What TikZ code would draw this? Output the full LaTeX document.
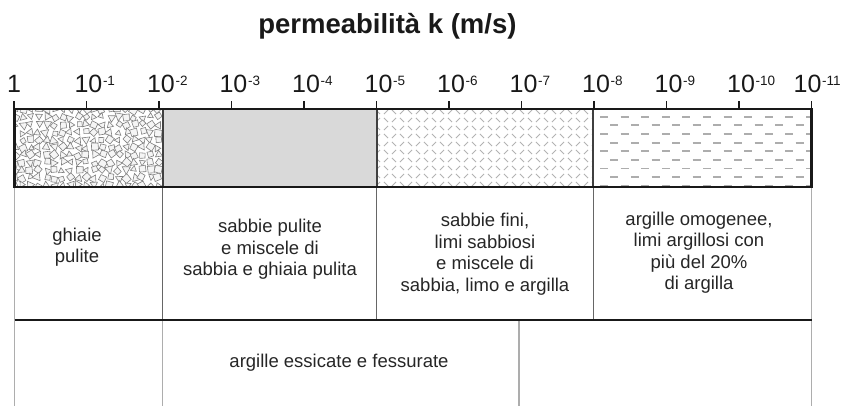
\documentclass[tikz,border=0pt]{standalone}
\usepackage{fontspec}
\setmainfont{Liberation Sans}
\newcommand\expolab[1]{10\rlap{\kern0.6pt\raisebox{7.5pt}{\fontsize{13.5}{13.5}\selectfont -#1}}}
\begin{document}
\begin{tikzpicture}[x=1pt,y=-1pt,
  txt/.style={align=center, text=black!85, font=\fontsize{18.5}{21.5}\selectfont, inner sep=0pt},
  ticklab/.style={anchor=base, text=black!90, font=\fontsize{25}{25}\selectfont, inner sep=0pt},
  titlestyle/.style={anchor=base, text=black!90, font=\bfseries\fontsize{27.5}{27.5}\selectfont, inner sep=0pt},
  thickline/.style={line width=2.6pt, draw=black!90},
  tickmark/.style={line width=1.8pt, draw=black!90},
  divider/.style={line width=1.7pt, draw=black!75},
  gridup/.style={line width=1.2pt, draw=black!60},
  gridlow/.style={line width=1.2pt, draw=black!32},
  gravel/.style={draw=black!50, line width=0.6pt, fill=black!4},
  silt/.style={draw=black!30, line width=1pt},
  clay/.style={draw=black!32, line width=1.8pt}
]
\useasboundingbox (0,0) rectangle (848,406);

% title
\node[titlestyle] (title) at (387.4,34) {permeabilità k (m/s)};

% tick labels
\node[ticklab] (t0) at (14,93) {1};
\foreach \i in {1,...,10} {
  \node[ticklab] (t\i) at (14+72.5*\i+2,93) {\expolab{\i}};
}
\node[ticklab] (t11) at (807.5,93) {\expolab{11}};

% sand fill
\fill[black!15] (162.7,109) rectangle (376.7,187);

% gravel pattern
\begin{scope}
  \clip (14.7,109) rectangle (162.7,187);
  \pgfmathsetseed{7}
  \foreach \i in {0,...,18} {
    \foreach \j in {0,...,10} {
      \pgfmathsetmacro\cx{13+\i*8+rnd*3}
      \pgfmathsetmacro\cy{108+\j*7.6+rnd*3}
      \pgfmathsetmacro\r{rnd*360}
      \pgfmathsetmacro\s{3.2+rnd*1.8}
      \pgfmathtruncatemacro\k{rnd*2}
      \ifnum\k=0
        \draw[gravel] (\cx,\cy) +(\r:\s) -- +(\r+115:\s) -- +(\r+235:\s) -- cycle;
      \else
        \draw[gravel] (\cx,\cy) +(\r:\s) -- +(\r+80:\s) -- +(\r+170:\s) -- +(\r+265:\s) -- cycle;
      \fi
    }
  }
\end{scope}

% silt pattern
\begin{scope}
  \clip (376.7,109) rectangle (593.3,187);
  \foreach \i in {0,...,28} {
    \foreach \j in {0,...,10} {
      \pgfmathsetmacro\px{378+\i*8}
      \pgfmathsetmacro\py{112+\j*8}
      \pgfmathtruncatemacro\k{mod(\i+\j,2)}
      \ifnum\k=0
        \draw[silt] (\px-2.1,\py-2.1) -- (\px+2.1,\py+2.1);
      \else
        \draw[silt] (\px-2.1,\py+2.1) -- (\px+2.1,\py-2.1);
      \fi
    }
  }
\end{scope}

% clay pattern
\begin{scope}
  \clip (593.3,109) rectangle (811.7,187);
  \foreach \j in {0,...,8} {
    \pgfmathsetmacro\py{116.7+\j*8.65}
    \pgfmathsetmacro\ph{mod(\j,2)*10.3}
    \draw[clay, dash pattern=on 8pt off 12.6pt, dash phase=\ph] (600,\py) -- (812,\py);
  }
\end{scope}

% dividers in bar
\draw[divider] (162.7,109) -- (162.7,187);
\draw[divider] (376.7,109) -- (376.7,187);
\draw[divider] (593.3,109) -- (593.3,187);

% lower table lines
\draw[gridlow] (14.7,187) -- (14.7,406);
\draw[gridlow] (811.7,187) -- (811.7,406);
\draw[gridup] (162.7,187) -- (162.7,320);
\draw[gridup] (376.7,187) -- (376.7,320);
\draw[gridup] (593.3,187) -- (593.3,320);
\draw[gridlow] (162.7,320) -- (162.7,406);
\draw[gridlow] (519,320) -- (519,406);
\draw[thickline] (14.7,320) -- (811.7,320);

% bar outline and ticks
\draw[thickline] (14.7,109) rectangle (811.7,187);
\foreach \i in {0,...,11} {
  \draw[tickmark] (14+72.5*\i,109) -- ++(0,-8);
}

% texts
\node[txt] (ghiaie) at (77,247) {ghiaie\\pulite};
\node[txt] (sabbie) at (270,249.5) {sabbie pulite\\e miscele di\\sabbia e ghiaia pulita};
\node[txt] (fini) at (485,254) {sabbie fini,\\limi sabbiosi\\e miscele di\\sabbia, limo e argilla};
\node[txt] (omog) at (699,252.5) {argille omogenee,\\limi argillosi con\\più del 20\%\\di argilla};
\node[txt] (essic) at (339,362.7) {argille essicate e fessurate};
\end{tikzpicture}
\end{document}
